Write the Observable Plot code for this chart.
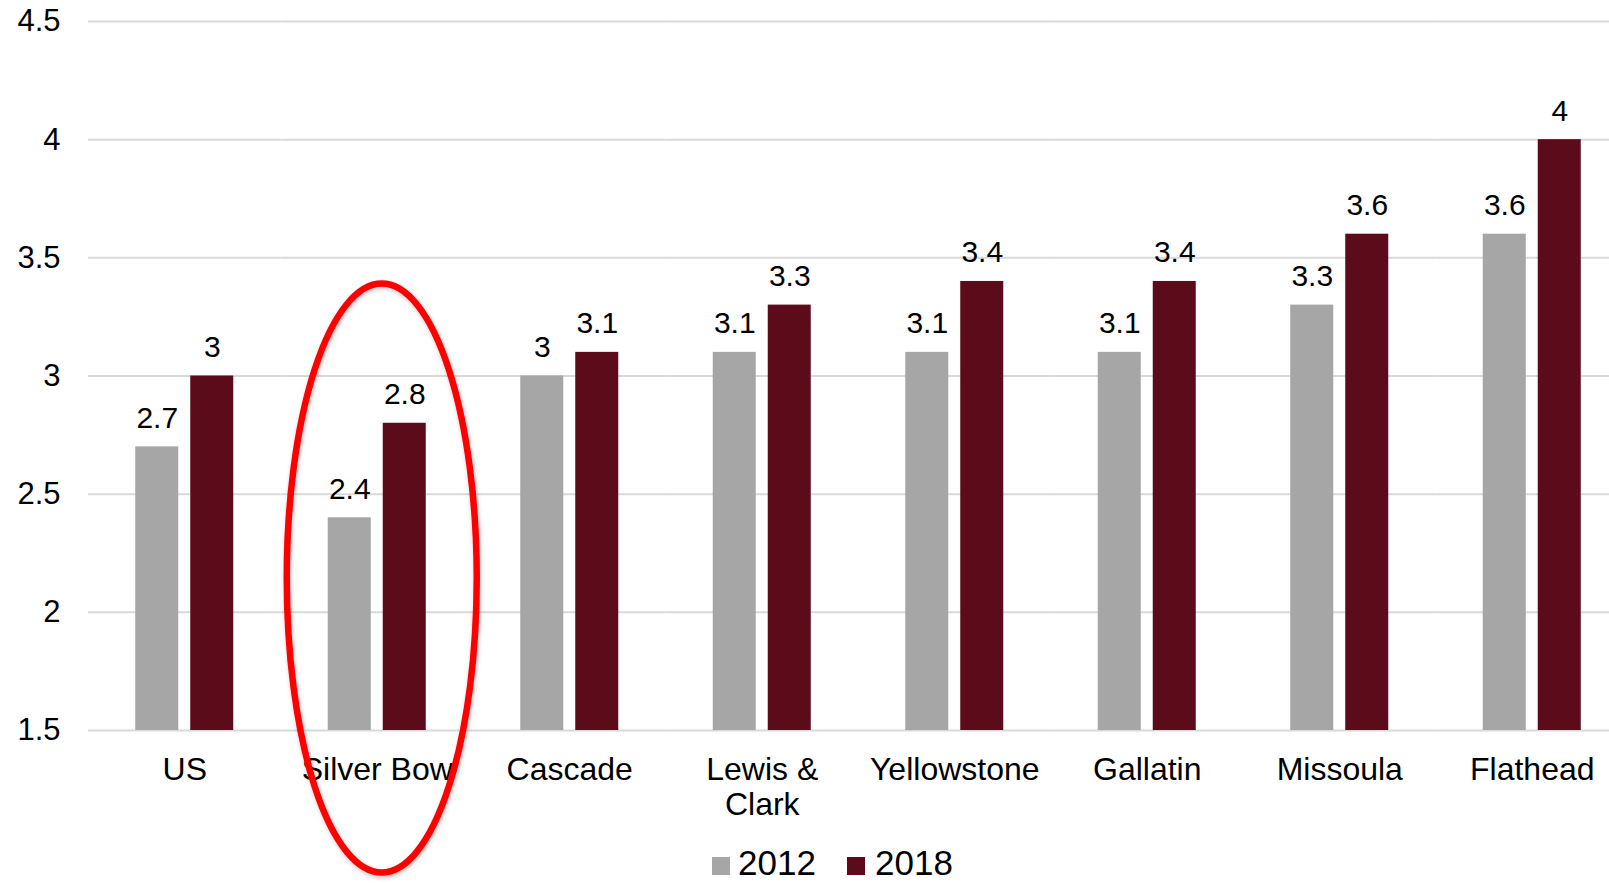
<!DOCTYPE html>
<html>
<head>
<meta charset="utf-8">
<script src="https://cdn.jsdelivr.net/npm/d3@7"></script>
<script src="https://cdn.jsdelivr.net/npm/@observablehq/plot@0.6"></script>
<style>
  html, body { margin: 0; padding: 0; background: #fff; overflow: hidden; width: 1609px; height: 883px; }
  #wrap { position: relative; width: 1609px; height: 883px; overflow: hidden; }
  #wrap > svg { max-width: none !important; display: block; }
  #legend { position: absolute; left: 0; top: 0; }
</style>
</head>
<body>
<div id="wrap"></div>
<script>
const categories = ["US", "Silver Bow", "Cascade", "Lewis &\nClark", "Yellowstone", "Gallatin", "Missoula", "Flathead"];
const years = ["2012", "2018"];
const values2012 = [2.7, 2.4, 3.0, 3.1, 3.1, 3.1, 3.3, 3.6];
const values2018 = [3.0, 2.8, 3.1, 3.3, 3.4, 3.4, 3.6, 4.0];
const yTicks = [1.5, 2, 2.5, 3, 3.5, 4, 4.5];
const highlighted = "Silver Bow";
const highlightCenterValue = 2.143;

const colors = {"2012": "#a6a6a6", "2018": "#5c0b1b"};
const rows = [];
categories.forEach((c, i) => {
  rows.push({cat: c, year: "2012", value: values2012[i]});
  rows.push({cat: c, year: "2018", value: values2018[i]});
});
const base = yTicks[0];
const FONT = "'Liberation Sans', Arial, sans-serif";

const chart = Plot.plot({
  width: 1628,
  height: 883,
  marginLeft: 88,
  marginRight: 0,
  marginTop: 21,
  marginBottom: 153,
  style: {fontFamily: FONT, fontSize: "30px", color: "#000", background: "transparent", overflow: "visible", maxWidth: "none"},
  fx: {domain: categories, padding: 0, round: false, axis: null, label: null},
  x: {domain: years, paddingInner: 0.218, paddingOuter: 0.859, round: false, axis: null, label: null},
  y: {domain: [yTicks[0], yTicks[yTicks.length - 1]], label: null},
  marks: [
    Plot.gridY(yTicks, {stroke: "#d9d9d9", strokeOpacity: 1, strokeWidth: 2}),
    Plot.axisY({ticks: yTicks, tickSize: 0, tickPadding: 28, tickFormat: d => String(d), fontSize: 31, label: null}),
    Plot.barY(rows, {fx: "cat", x: "year", y1: base, y2: "value", fill: d => colors[d.year]}),
    Plot.text(rows, {fx: "cat", x: "year", y: "value", text: d => String(d.value), lineAnchor: "bottom", dy: -19, fontSize: 30, fill: "#000"}),
    Plot.text(categories, {fx: d => d, text: d => d, frameAnchor: "bottom", lineAnchor: "top", dy: 24, fontSize: 32, lineHeight: 1.11, fill: "#000"})
  ]
});
chart.style.maxWidth = "none";
document.getElementById("wrap").appendChild(chart);

// Red highlight ellipse placed via the plot's own scales
let cx, cy;
try {
  const fx = chart.scale("fx");
  const y = chart.scale("y");
  cx = fx.apply(highlighted) + fx.bandwidth / 2 + 5;
  cy = y.apply(highlightCenterValue);
} catch (e) {
  const fx = d3.scaleBand(categories, [88, 1628]);
  const y = d3.scaleLinear([1.5, 4.5], [730, 21]);
  cx = fx(highlighted) + fx.bandwidth() / 2 + 5;
  cy = y(highlightCenterValue);
}
const svg = d3.select(chart);
const defs = svg.append("defs");
const f = defs.append("filter").attr("id", "sh").attr("x", "-20%").attr("y", "-20%").attr("width", "140%").attr("height", "140%");
f.append("feDropShadow").attr("dx", 1).attr("dy", 2).attr("stdDeviation", 2).attr("flood-color", "#000").attr("flood-opacity", 0.25);
svg.append("ellipse")
  .attr("cx", cx).attr("cy", cy)
  .attr("rx", 95).attr("ry", 294.5)
  .attr("fill", "none").attr("stroke", "#ff0000").attr("stroke-width", 6.5)
  .attr("filter", "url(#sh)");

// Legend (overlay placed below the plot area)
const lg = d3.select("#wrap").append("svg")
  .attr("id", "legend")
  .attr("width", 1609).attr("height", 883)
  .style("pointer-events", "none");
const items = [{y: "2012", sx: 712, tx: 738}, {y: "2018", sx: 847, tx: 875}];
items.forEach(it => {
  lg.append("rect").attr("x", it.sx).attr("y", 857).attr("width", 18).attr("height", 18).attr("fill", colors[it.y]);
  lg.append("text").attr("x", it.tx).attr("y", 875)
    .attr("font-family", FONT).attr("font-size", 35).attr("fill", "#000")
    .text(it.y);
});
</script>
</body>
</html>
